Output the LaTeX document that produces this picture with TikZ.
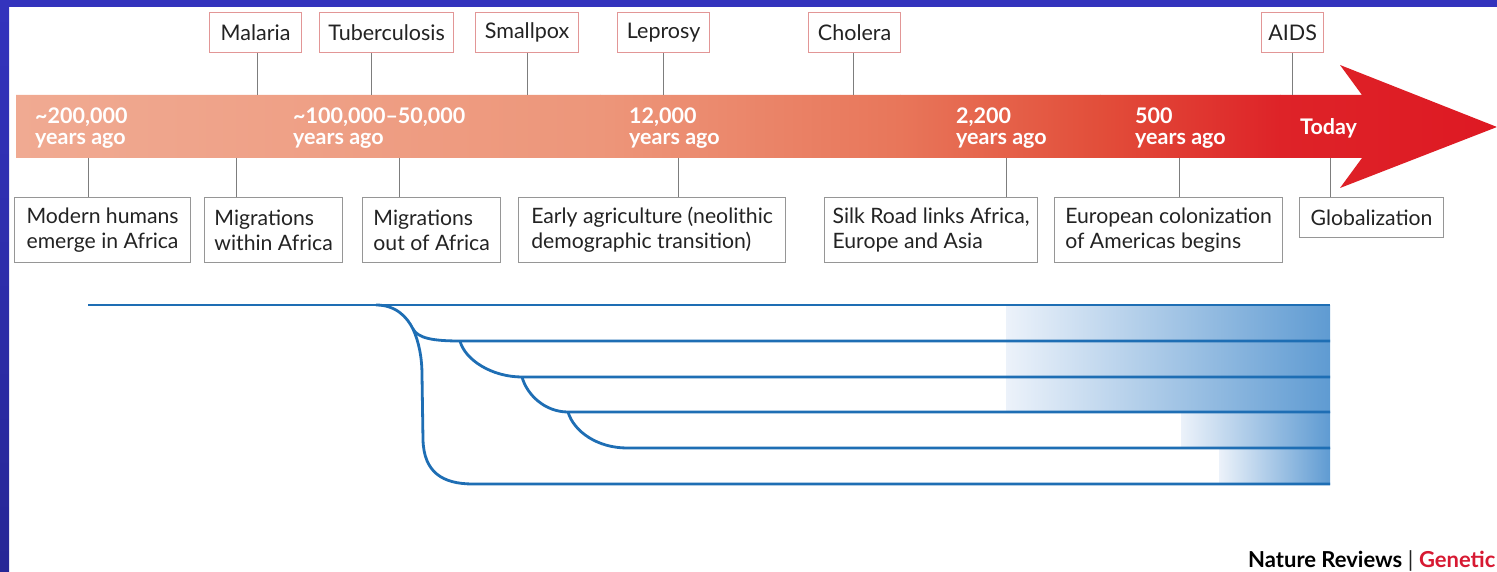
\documentclass[tikz,border=0pt]{standalone}
\usepackage{fontspec}
\setmainfont{Lato}
\definecolor{borderblue}{RGB}{51,51,189}
\definecolor{borderdark}{RGB}{38,38,150}
\definecolor{treeblue}{RGB}{30,110,180}
\definecolor{shadeblue}{RGB}{95,155,210}
\definecolor{shadestart}{RGB}{236,242,250}
\definecolor{pinkedge}{RGB}{226,150,150}
\definecolor{greyedge}{RGB}{150,150,150}
\definecolor{connline}{RGB}{125,125,125}
\definecolor{txt}{RGB}{35,35,35}
\definecolor{natred}{RGB}{215,25,50}
\definecolor{ca}{RGB}{240,170,146}
\definecolor{cb}{RGB}{237,150,122}
\definecolor{cc}{RGB}{232,118,90}
\definecolor{cd}{RGB}{226,78,58}
\definecolor{ce}{RGB}{222,35,40}
\definecolor{cf}{RGB}{222,25,35}
\tikzset{
  evbox/.style={draw=greyedge, line width=1.2pt, fill=white, anchor=north west,
    inner xsep=6pt, inner ysep=0pt, align=left, text=txt,
    font=\fontsize{21.2}{25}\selectfont},
  disbox/.style={draw=pinkedge, line width=1.2pt, fill=white, anchor=north west,
    inner sep=0pt, align=center, text=txt, font=\fontsize{21.5}{24}\selectfont},
  barlabel/.style={anchor=west, align=left, text=white, inner sep=0pt,
    font=\bfseries\fontsize{21.5}{21.5}\selectfont},
  conn/.style={draw=connline, line width=1.1pt},
  branch/.style={draw=treeblue, line width=2.8pt},
}
\begin{document}
\begin{tikzpicture}[x=1pt,y=-1pt]
\useasboundingbox (0,0) rectangle (1497,572);
\fill[white] (0,0) rectangle (1497,572);
% frame
\fill[borderblue] (0,0) rectangle (1497,7);
\shade[top color=borderblue, bottom color=borderdark] (0,0) rectangle (9,572);

% timeline arrow
\coordinate (bt) at (16,95);
\coordinate (bb) at (16,158);
\begin{scope}
  \clip (16,95) -- (1362,95) -- (1340,65) -- (1497,127) -- (1340,188) -- (1362,158) -- (16,158) -- cycle;
  \shade[left color=ca, right color=cb] (16,60) rectangle (600.5,200);
  \shade[left color=cb, right color=cc] (600,60) rectangle (900.5,200);
  \shade[left color=cc, right color=cd] (900,60) rectangle (1100.5,200);
  \shade[left color=cd, right color=ce] (1100,60) rectangle (1280.5,200);
  \shade[left color=ce, right color=cf] (1280,60) rectangle (1497,200);
\end{scope}

% bar labels
\node[barlabel] (l200) at (35,128) {\textasciitilde 200,000\\years ago};
\node[barlabel] (l100) at (293,128) {\textasciitilde 100,000–50,000\\years ago};
\node[barlabel] (l12) at (629,128) {12,000\\years ago};
\node[barlabel] (l22) at (956,128) {2,200\\years ago};
\node[barlabel] (l5) at (1135,128) {500\\years ago};
\node[barlabel] (ltd) at (1300,128) {Today};

% disease boxes
\node[disbox, minimum width=92, minimum height=40] (mal) at (209,12) {Malaria};
\node[disbox, minimum width=134, minimum height=40] (tb) at (319,12) {Tuberculosis};
\node[disbox, minimum width=103, minimum height=40] (spx) at (475,12) {Smallpox};
\node[disbox, minimum width=92, minimum height=40] (lep) at (617,12) {Leprosy};
\node[disbox, minimum width=92, minimum height=40] (cho) at (808,12) {Cholera};
\node[disbox, minimum width=62, minimum height=40] (aids) at (1261,12) {AIDS};

\draw[conn] ([xshift=2pt]mal.south) -- ([xshift=2pt]mal.south |- bt);
\draw[conn] ([xshift=-15pt]tb.south) -- ([xshift=-15pt]tb.south |- bt);
\draw[conn] (spx.south) -- (spx.south |- bt);
\draw[conn] (lep.south) -- (lep.south |- bt);
\draw[conn] ([xshift=-1pt]cho.south) -- ([xshift=-1pt]cho.south |- bt);
\draw[conn] (aids.south) -- (aids.south |- bt);

% event boxes
\node[evbox, minimum width=176, minimum height=65] (mh) at (14,197) {Modern humans\\emerge in Africa};
\node[evbox, minimum width=138, minimum height=65] (mwa) at (204,197) {Migrations\\within Africa};
\node[evbox, minimum width=138, minimum height=65] (moa) at (362,197) {Migrations\\out of Africa};
\node[evbox, minimum width=267, minimum height=65] (ea) at (518,197) {Early agriculture (neolithic\\demographic transition)};
\node[evbox, minimum width=213, minimum height=65] (sr) at (824,197) {Silk Road links Africa,\\Europe and Asia};
\node[evbox, minimum width=228, minimum height=65] (ec) at (1054,197) {European colonization\\of Americas begins};
\node[evbox, minimum width=144, minimum height=40] (gl) at (1299,197) {Globalization};

\draw[conn] ([xshift=-14pt]mh.north) -- ([xshift=-14pt]mh.north |- bb);
\draw[conn] ([xshift=-37pt]mwa.north) -- ([xshift=-37pt]mwa.north |- bb);
\draw[conn] ([xshift=-32pt]moa.north) -- ([xshift=-32pt]moa.north |- bb);
\draw[conn] ([xshift=26pt]ea.north) -- ([xshift=26pt]ea.north |- bb);
\draw[conn] ([xshift=75pt]sr.north) -- ([xshift=75pt]sr.north |- bb);
\draw[conn] ([xshift=11pt]ec.north) -- ([xshift=11pt]ec.north |- bb);
\draw[conn] ([xshift=-41pt]gl.north) -- ([xshift=-41pt]gl.north |- bb);

% population tree shading
\shade[left color=shadestart, right color=shadeblue] (1006,305) rectangle (1330,412);
\shade[left color=shadestart, right color=shadeblue] (1181,412) rectangle (1330,448);
\shade[left color=shadestart, right color=shadeblue] (1219,448) rectangle (1330,484);

% population tree
\draw[branch] (88,305) -- (1330,305);
\draw[branch] (376,305) .. controls (396,305) and (407,317) .. (413,329)
  .. controls (418,338) and (432,341) .. (460,341) -- (1330,341);
\draw[branch] (413,329) .. controls (419,342) and (422,358) .. (422,375) -- (423,440)
  .. controls (424,472) and (442,484) .. (473,484) -- (1330,484);
\draw[branch] (460,341) .. controls (465,360) and (492,377) .. (522,377) -- (1330,377);
\draw[branch] (522,377) .. controls (527,395) and (545,412) .. (568,412) -- (1330,412);
\draw[branch] (568,412) .. controls (574,432) and (598,448) .. (627,448) -- (1330,448);

% footer
\node[anchor=base west, inner sep=0pt, font=\fontsize{22}{24}\selectfont] (nrg) at (1248,567)
  {\textbf{Nature Reviews} {\color{txt}|} \textcolor{natred}{\textbf{Genetic}}};
\end{tikzpicture}
\end{document}
